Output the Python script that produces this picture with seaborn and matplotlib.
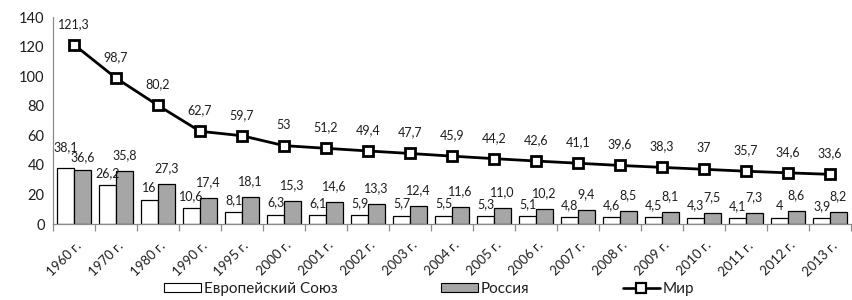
import matplotlib
matplotlib.use('Agg')
import matplotlib.pyplot as plt
import matplotlib.transforms as mtrans
import seaborn as sns
import pandas as pd
import numpy as np
from matplotlib.patches import Patch
from matplotlib.lines import Line2D

# ── Data ──────────────────────────────────────────────
years = ['1960 г.', '1970 г.', '1980 г.', '1990 г.', '1995 г.', '2000 г.', '2001 г.',
         '2002 г.', '2003 г.', '2004 г.', '2005 г.', '2006 г.', '2007 г.', '2008 г.',
         '2009 г.', '2010 г.', '2011 г.', '2012 г.', '2013 г.']
eu = [38.1, 26.2, 16, 10.6, 8.1, 6.3, 6.1, 5.9, 5.7, 5.5, 5.3, 5.1, 4.8, 4.6, 4.5, 4.3, 4.1, 4, 3.9]
russia = [36.6, 35.8, 27.3, 17.4, 18.1, 15.3, 14.6, 13.3, 12.4, 11.6, 11.0, 10.2, 9.4, 8.5,
          8.1, 7.5, 7.3, 8.6, 8.2]
world = [121.3, 98.7, 80.2, 62.7, 59.7, 53, 51.2, 49.4, 47.7, 45.9, 44.2, 42.6, 41.1, 39.6,
         38.3, 37, 35.7, 34.6, 33.6]
series_names = ['Европейский Союз', 'Россия', 'Мир']

sns.set_theme(style='white')
plt.rcParams['font.family'] = ['Lato', 'DejaVu Sans']

df = pd.DataFrame({
    'year': years * 2,
    'series': [series_names[0]] * len(years) + [series_names[1]] * len(years),
    'value': eu + russia,
})

fig = plt.figure(figsize=(8.52, 3.0), dpi=100)
ax = fig.add_axes([53 / 852, 1 - 224 / 300, 798 / 852, 207 / 300])

GREY = '#a6a6a6'
TXT = '#1e1e1e'
sns.barplot(data=df, x='year', y='value', hue='series', palette=['white', GREY],
            edgecolor='black', linewidth=0.9, width=0.8, ax=ax, legend=False)

x = np.arange(len(years))
ax.plot(x, world, color='black', lw=2.0, marker='s', markersize=7,
        markerfacecolor='white', markeredgecolor='black', markeredgewidth=2, zorder=5)


def fmt(v, fixed=False):
    s = f'{v:.1f}' if fixed else f'{v:g}'
    return s.replace('.', ',')


# label offsets (points above the mark), like Excel's auto placement
lbl_kw = dict(ha='center', va='center', fontsize=9, color=TXT, textcoords='offset points')
for i in x:
    eu_off = 14.5 if i == 0 else 8.8
    ru_off = 9.4 if i == 0 else 11.5
    ax.annotate(fmt(eu[i]), (i - 0.2, eu[i]), xytext=(0, eu_off), **lbl_kw)
    ax.annotate(fmt(russia[i], True), (i + 0.2, russia[i]), xytext=(0, ru_off), **lbl_kw)
    ax.annotate(fmt(world[i]), (i, world[i]), xytext=(0, 15), **lbl_kw)

ax.set_xlim(-0.5, len(years) - 0.5)
ax.set_ylim(0, 140)
ax.set_yticks(range(0, 141, 20))
ax.set_xlabel('')
ax.set_ylabel('')

for s in ['top', 'right']:
    ax.spines[s].set_visible(False)
for s in ['left', 'bottom']:
    ax.spines[s].set_color('#8c8c8c')
    ax.spines[s].set_linewidth(0.9)

ax.set_xticks(x)
ax.set_xticklabels(years, rotation=45, ha='right', va='center', rotation_mode='anchor',
                   fontsize=9.5, color=TXT)
ax.set_xticks(np.arange(-0.5, len(years), 1), minor=True)
ax.tick_params(axis='x', which='major', length=0, pad=14)
ax.tick_params(axis='x', which='minor', length=5, width=0.9, color='#8c8c8c',
               direction='out', bottom=True)
ax.tick_params(axis='y', length=0, pad=6, labelsize=10.5, labelcolor=TXT)
shift = mtrans.ScaledTranslation(5 / 100, 0, fig.dpi_scale_trans)
for lbl in ax.get_xticklabels():
    lbl.set_transform(lbl.get_transform() + shift)

# ── Legend (three entries placed like the original) ──
handles = [
    Patch(facecolor='white', edgecolor='black', linewidth=0.8),
    Patch(facecolor=GREY, edgecolor='black', linewidth=0.8),
    Line2D([0], [0], color='black', lw=1.9, marker='s', markersize=6.5,
           markerfacecolor='white', markeredgecolor='black', markeredgewidth=1.6),
]
leg_x = [164, 441, 623]
for h, name, lx in zip(handles, series_names, leg_x):
    fig.legend([h], [name], loc='center left', bbox_to_anchor=(lx / 852, 11 / 300),
               frameon=False, fontsize=11, handlelength=2.4, handleheight=0.6,
               handletextpad=0.2, borderaxespad=0, borderpad=0, labelcolor=TXT)

plt.savefig('out.png', dpi=100)
